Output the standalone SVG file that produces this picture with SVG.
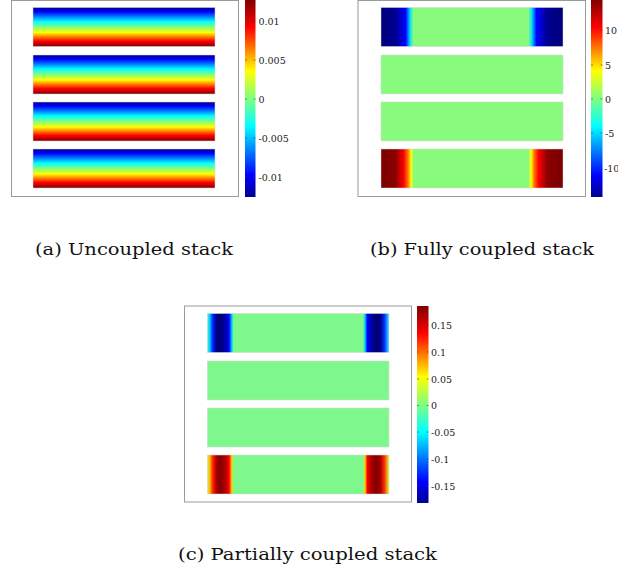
<svg xmlns="http://www.w3.org/2000/svg" width="618" height="573" viewBox="0 0 618 573">
<style>
.frame{fill:#fff;stroke:#9a9a9a;stroke-width:1}
.tick{stroke:#444;stroke-width:0.6}
.lbl{font-family:'DejaVu Serif',serif;font-size:9.5px;fill:#222}
.cap{font-family:'DejaVu Serif',serif;font-size:17.5px;fill:#111}
.bar{stroke:#d8d8d8;stroke-width:0.5}
</style>
<defs>
<linearGradient id="jetV" x1="0" y1="0" x2="0" y2="1">
<stop offset="0" stop-color="#00008f"/><stop offset="0.11" stop-color="#0000ff"/><stop offset="0.36" stop-color="#00ffff"/><stop offset="0.5" stop-color="#80ff80"/><stop offset="0.64" stop-color="#ffff00"/><stop offset="0.86" stop-color="#ff0000"/><stop offset="1" stop-color="#800000"/>
</linearGradient>
<linearGradient id="jetCB" x1="0" y1="1" x2="0" y2="0">
<stop offset="0" stop-color="#00008f"/><stop offset="0.11" stop-color="#0000ff"/><stop offset="0.36" stop-color="#00ffff"/><stop offset="0.5" stop-color="#80ff80"/><stop offset="0.64" stop-color="#ffff00"/><stop offset="0.86" stop-color="#ff0000"/><stop offset="1" stop-color="#800000"/>
</linearGradient>
<linearGradient id="bTop" x1="0" y1="0" x2="1" y2="0">
<stop offset="0" stop-color="#00007a"/><stop offset="0.08" stop-color="#000090"/><stop offset="0.135" stop-color="#0000ff"/><stop offset="0.16" stop-color="#00e0ff"/><stop offset="0.178" stop-color="#88fb7c"/><stop offset="0.81" stop-color="#88fb7c"/><stop offset="0.828" stop-color="#00e0ff"/><stop offset="0.855" stop-color="#0000ff"/><stop offset="0.915" stop-color="#000090"/><stop offset="1" stop-color="#00007a"/>
</linearGradient>
<linearGradient id="bBot" x1="0" y1="0" x2="1" y2="0">
<stop offset="0" stop-color="#7a0000"/><stop offset="0.08" stop-color="#8a0000"/><stop offset="0.125" stop-color="#ff0000"/><stop offset="0.15" stop-color="#ff8000"/><stop offset="0.165" stop-color="#ffff00"/><stop offset="0.18" stop-color="#88fb7c"/><stop offset="0.81" stop-color="#88fb7c"/><stop offset="0.825" stop-color="#ffff00"/><stop offset="0.84" stop-color="#ff8000"/><stop offset="0.865" stop-color="#ff0000"/><stop offset="0.915" stop-color="#8a0000"/><stop offset="1" stop-color="#7a0000"/>
</linearGradient>
<linearGradient id="cTop" x1="0" y1="0" x2="1" y2="0">
<stop offset="0" stop-color="#40ffc0"/><stop offset="0.015" stop-color="#00c0ff"/><stop offset="0.03" stop-color="#0020ff"/><stop offset="0.05" stop-color="#000090"/><stop offset="0.07" stop-color="#000070"/><stop offset="0.1" stop-color="#0000b0"/><stop offset="0.12" stop-color="#0000ff"/><stop offset="0.135" stop-color="#00d0ff"/><stop offset="0.145" stop-color="#7ef88c"/><stop offset="0.857" stop-color="#7ef88c"/><stop offset="0.868" stop-color="#00d0ff"/><stop offset="0.88" stop-color="#0000ff"/><stop offset="0.9" stop-color="#0000b0"/><stop offset="0.93" stop-color="#000070"/><stop offset="0.955" stop-color="#000090"/><stop offset="0.975" stop-color="#0030ff"/><stop offset="1" stop-color="#40e0ff"/>
</linearGradient>
<linearGradient id="cBot" x1="0" y1="0" x2="1" y2="0">
<stop offset="0" stop-color="#c0ff40"/><stop offset="0.015" stop-color="#ffb000"/><stop offset="0.03" stop-color="#ff2000"/><stop offset="0.05" stop-color="#b00000"/><stop offset="0.07" stop-color="#800000"/><stop offset="0.1" stop-color="#b00000"/><stop offset="0.12" stop-color="#ff0000"/><stop offset="0.135" stop-color="#ffd000"/><stop offset="0.145" stop-color="#7ef88c"/><stop offset="0.857" stop-color="#7ef88c"/><stop offset="0.868" stop-color="#ffd000"/><stop offset="0.88" stop-color="#ff0000"/><stop offset="0.9" stop-color="#b00000"/><stop offset="0.93" stop-color="#800000"/><stop offset="0.955" stop-color="#b00000"/><stop offset="0.975" stop-color="#ff3000"/><stop offset="1" stop-color="#d0ff30"/>
</linearGradient>
</defs>

<g id="panel-a">
<rect class="frame" x="11.5" y="0.5" width="227" height="196"/>
<rect class="bar" x="33" y="7.5" width="182" height="39" fill="url(#jetV)"/>
<rect class="bar" x="33" y="55" width="182" height="39" fill="url(#jetV)"/>
<rect class="bar" x="33" y="102" width="182" height="39" fill="url(#jetV)"/>
<rect class="bar" x="33" y="149" width="182" height="39" fill="url(#jetV)"/>
<rect x="245" y="0" width="10.5" height="197" fill="url(#jetCB)"/>
<g class="tick">
<line x1="245" y1="21" x2="247" y2="21"/><line x1="253.5" y1="21" x2="255.5" y2="21"/>
<line x1="245" y1="60" x2="247" y2="60"/><line x1="253.5" y1="60" x2="255.5" y2="60"/>
<line x1="245" y1="99" x2="247" y2="99"/><line x1="253.5" y1="99" x2="255.5" y2="99"/>
<line x1="245" y1="138" x2="247" y2="138"/><line x1="253.5" y1="138" x2="255.5" y2="138"/>
<line x1="245" y1="177" x2="247" y2="177"/><line x1="253.5" y1="177" x2="255.5" y2="177"/>
</g>
<text class="lbl" x="258.5" y="24.5">0.01</text>
<text class="lbl" x="258.5" y="63.5">0.005</text>
<text class="lbl" x="258.5" y="102.5">0</text>
<text class="lbl" x="258.5" y="141.5">-0.005</text>
<text class="lbl" x="258.5" y="180.5">-0.01</text>
<text class="cap" x="35" y="254.5" textLength="198" lengthAdjust="spacingAndGlyphs">(a) Uncoupled stack</text>
</g>

<g id="panel-b">
<rect class="frame" x="358" y="0.5" width="227.5" height="196"/>
<rect class="bar" x="381" y="7.5" width="182" height="39" fill="url(#bTop)"/>
<rect class="bar" x="381" y="55" width="182" height="39" fill="#88fb7c"/>
<rect class="bar" x="381" y="102" width="182" height="39" fill="#88fb7c"/>
<rect class="bar" x="381" y="149" width="182" height="39" fill="url(#bBot)"/>
<rect x="591" y="0" width="11.5" height="197" fill="url(#jetCB)"/>
<g class="tick">
<line x1="591" y1="30" x2="593" y2="30"/><line x1="600.5" y1="30" x2="602.5" y2="30"/>
<line x1="591" y1="65" x2="593" y2="65"/><line x1="600.5" y1="65" x2="602.5" y2="65"/>
<line x1="591" y1="99" x2="593" y2="99"/><line x1="600.5" y1="99" x2="602.5" y2="99"/>
<line x1="591" y1="133" x2="593" y2="133"/><line x1="600.5" y1="133" x2="602.5" y2="133"/>
<line x1="591" y1="168" x2="593" y2="168"/><line x1="600.5" y1="168" x2="602.5" y2="168"/>
</g>
<text class="lbl" x="605" y="33.5">10</text>
<text class="lbl" x="605" y="68.5">5</text>
<text class="lbl" x="605" y="102.5">0</text>
<text class="lbl" x="605" y="136.5">-5</text>
<text class="lbl" x="604" y="171.5" font-size="9">-10</text>
<text class="cap" x="370" y="254.5" textLength="224" lengthAdjust="spacingAndGlyphs">(b) Fully coupled stack</text>
</g>

<g id="panel-c">
<rect class="frame" x="184.5" y="306" width="227" height="196"/>
<rect class="bar" x="207.3" y="313.5" width="181.7" height="39" fill="url(#cTop)"/>
<rect class="bar" x="207.3" y="361" width="181.7" height="39" fill="#7ef88c"/>
<rect class="bar" x="207.3" y="408" width="181.7" height="39" fill="#7ef88c"/>
<rect class="bar" x="207.3" y="455" width="181.7" height="39" fill="url(#cBot)"/>
<rect x="417" y="306" width="11.5" height="197" fill="url(#jetCB)"/>
<g class="tick">
<line x1="417" y1="325" x2="419" y2="325"/><line x1="426.5" y1="325" x2="428.5" y2="325"/>
<line x1="417" y1="352" x2="419" y2="352"/><line x1="426.5" y1="352" x2="428.5" y2="352"/>
<line x1="417" y1="379" x2="419" y2="379"/><line x1="426.5" y1="379" x2="428.5" y2="379"/>
<line x1="417" y1="405.5" x2="419" y2="405.5"/><line x1="426.5" y1="405.5" x2="428.5" y2="405.5"/>
<line x1="417" y1="432" x2="419" y2="432"/><line x1="426.5" y1="432" x2="428.5" y2="432"/>
<line x1="417" y1="459" x2="419" y2="459"/><line x1="426.5" y1="459" x2="428.5" y2="459"/>
<line x1="417" y1="486" x2="419" y2="486"/><line x1="426.5" y1="486" x2="428.5" y2="486"/>
</g>
<text class="lbl" x="431" y="328.5">0.15</text>
<text class="lbl" x="431" y="355.5">0.1</text>
<text class="lbl" x="431" y="382.5">0.05</text>
<text class="lbl" x="431" y="409">0</text>
<text class="lbl" x="431" y="435.5">-0.05</text>
<text class="lbl" x="431" y="462.5">-0.1</text>
<text class="lbl" x="431" y="489.5">-0.15</text>
<text class="cap" x="178" y="559.5" textLength="259" lengthAdjust="spacingAndGlyphs">(c) Partially coupled stack</text>
</g>
</svg>
